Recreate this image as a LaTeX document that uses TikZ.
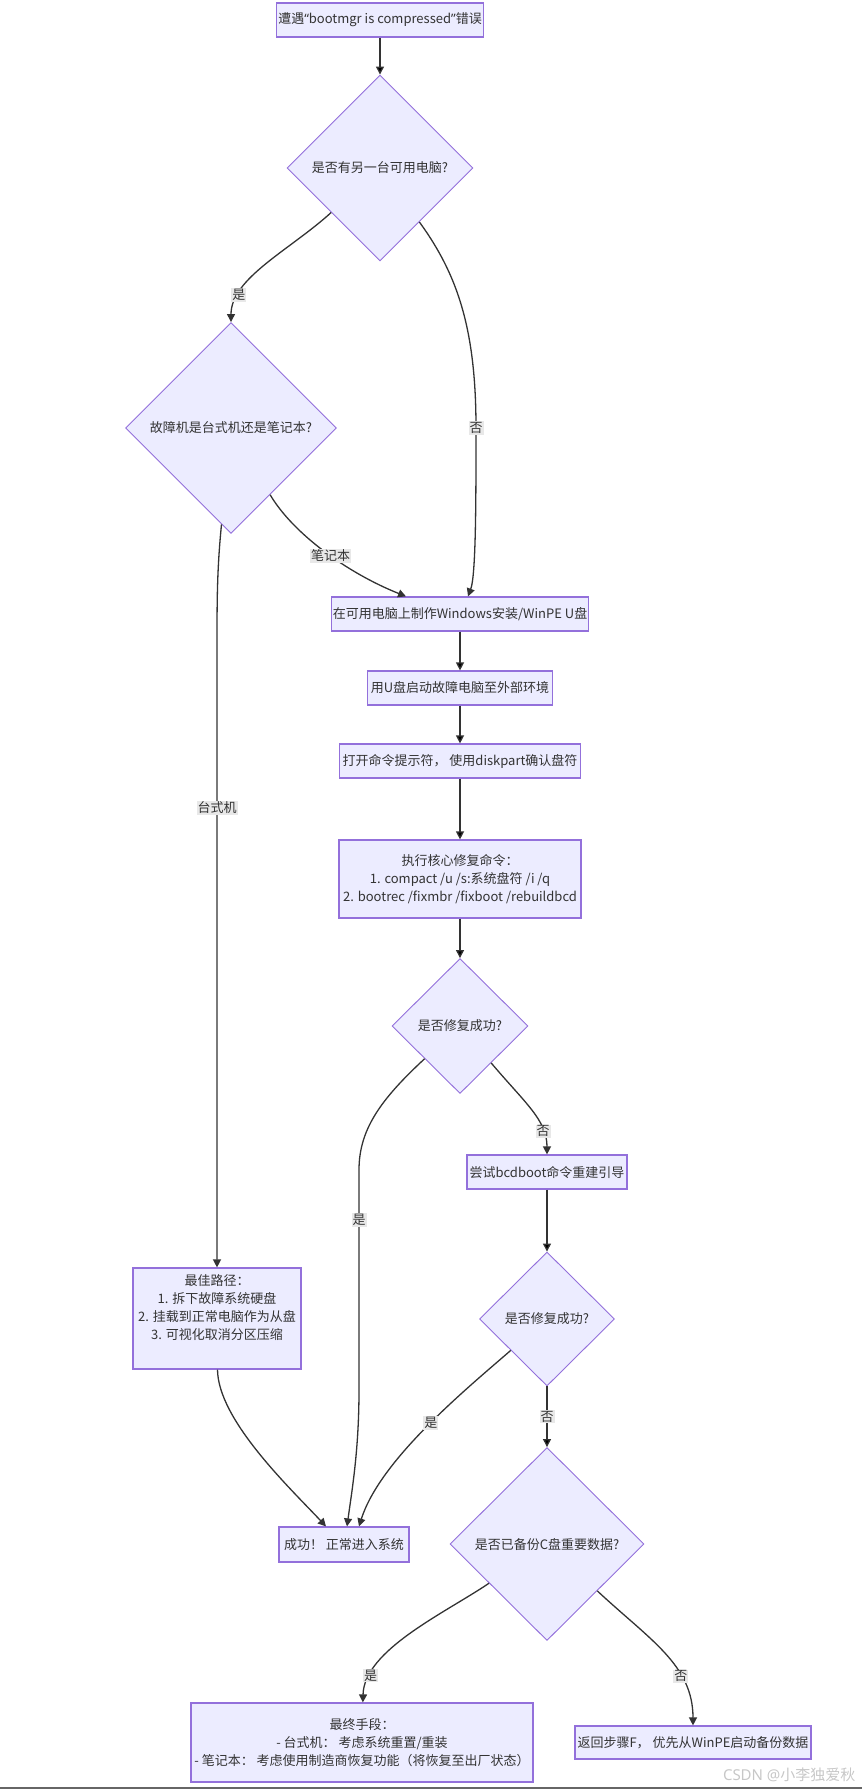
\documentclass[tikz,border=0pt]{standalone}
\usepackage{fontspec}
\setmainfont{Noto Sans CJK SC}
\newfontfamily\latinfont{Noto Sans}
\usepackage{tikz}
\usetikzlibrary{shapes.geometric,arrows.meta}
\definecolor{nodefill}{HTML}{ECECFF}
\definecolor{nodeline}{HTML}{9370DB}
\definecolor{edgeline}{HTML}{333333}
\definecolor{lblfill}{HTML}{E8E8E8}

\begin{document}
\begin{tikzpicture}[x=1pt,y=-1pt,
	every node/.style={font=\fontsize{13}{18}\selectfont, text=edgeline},
	box/.style={draw=nodeline, fill=nodefill, line width=1.2pt, align=center, inner sep=0pt},
	choice/.style={shape=diamond, draw=nodeline, fill=nodefill, line width=0.9pt, inner sep=0pt, align=center},
	lbl/.style={fill=lblfill, inner sep=1pt},
	arr/.style={draw=edgeline, line width=1.3pt, -{Triangle[length=8pt,width=8pt]}}]
	\useasboundingbox (0,0) rectangle (862,1789);

	\node[box, minimum width=207pt, minimum height=34pt] (1) at (380,20) {遭遇{\latinfont “}bootmgr is compressed{\latinfont ”}错误};
	\node[choice, minimum width=186pt, minimum height=186pt] (2) at (380,168) {是否有另一台可用电脑?};
	\node[choice, minimum width=211pt, minimum height=211pt] (3) at (231,428) {故障机是台式机还是笔记本?};
	\node[box, minimum width=257pt, minimum height=34pt] (4) at (460,614) {在可用电脑上制作Windows安装/WinPE U盘};
	\node[box, minimum width=185pt, minimum height=34pt] (5) at (460,688) {用U盘启动故障电脑至外部环境};
	\node[box, minimum width=241pt, minimum height=34pt] (6) at (460,761) {打开命令提示符， 使用diskpart确认盘符};
	\node[box, minimum width=242pt, minimum height=78pt] (7) at (460,879) {执行核心修复命令：\\1. compact /u /s:系统盘符 /i /q\\2. bootrec /fixmbr /fixboot /rebuildbcd};
	\node[choice, minimum width=136pt, minimum height=135pt] (8) at (460,1026) {是否修复成功?};
	\node[box, minimum width=160pt, minimum height=34pt] (9) at (547,1172) {尝试bcdboot命令重建引导};
	\node[choice, minimum width=135pt, minimum height=134pt] (10) at (547,1319) {是否修复成功?};
	\node[box, minimum width=168pt, minimum height=101pt] (11) at (217,1318.5) {最佳路径：\\1. 拆下故障系统硬盘\\2. 挂载到正常电脑作为从盘\\3. 可视化取消分区压缩\\[4pt]};
	\node[box, minimum width=130pt, minimum height=35pt] (12) at (344,1544.5) {成功！ 正常进入系统};
	\node[choice, minimum width=194pt, minimum height=193pt] (13) at (547,1544) {是否已备份C盘重要数据?};
	\node[box, minimum width=342pt, minimum height=79pt] (14) at (362,1742.5) {最终手段：\\- 台式机： 考虑系统重置/重装\\- 笔记本： 考虑使用制造商恢复功能（将恢复至出厂状态）};
	\node[box, minimum width=236pt, minimum height=33pt] (15) at (693,1742.5) {返回步骤F， 优先从WinPE启动备份数据};
	\node[text=black!22, font=\fontsize{15}{15}\selectfont, anchor=east] (16) at (859,1775) {{\latinfont CSDN @}小李独爱秋};

	\path [arr] (1) edge (2);
	\draw [arr] (2) .. controls (290,250) and (231,278) .. (3) node[lbl, pos=0.78] {是};
	\draw [arr] (2) .. controls (458,275) and (476,330) .. (476,428) node[lbl] {否} .. controls (476,500) and (476,575) .. ([xshift=8pt]4.north);
	\draw [arr] (3) .. controls (292,532) and (345,572) .. ([xshift=-54pt]4.north) node[lbl, pos=0.55] {笔记本};
	\draw [arr] (3) .. controls (217,570) and (217,600) .. (217,650) -- (217,808) node[lbl] {台式机} -- (11);
	\path [arr] (4) edge (5);
	\path [arr] (5) edge (6);
	\path [arr] (6) edge (7);
	\path [arr] (7) edge (8);
	\draw [arr] (8) .. controls (380,1100) and (359,1130) .. (359,1170) -- (359,1220) node[lbl] {是} -- (359,1390) .. controls (359,1450) and (352,1490) .. ([xshift=3pt]12.north);
	\draw [arr] (8) .. controls (525,1103) and (547,1120) .. (9) node[lbl, pos=0.75] {否};
	\path [arr] (9) edge (10);
	\draw [arr] (10) .. controls (465,1390) and (380,1460) .. ([xshift=15pt]12.north) node[lbl, pos=0.47] {是};
	\path [arr] (10) edge node[lbl] {否} (13);
	\draw [arr] (11) .. controls (218,1420) and (290,1488) .. ([xshift=-18pt]12.north);
	\draw [arr] (13) .. controls (445,1613) and (364,1650) .. (14) node[lbl, pos=0.82] {是};
	\draw [arr] (13) .. controls (650,1640) and (693,1665) .. (15) node[lbl, pos=0.68] {否};

	\draw [black!60, line width=2pt] (0,1788) -- (862,1788);
\end{tikzpicture}
\end{document}
